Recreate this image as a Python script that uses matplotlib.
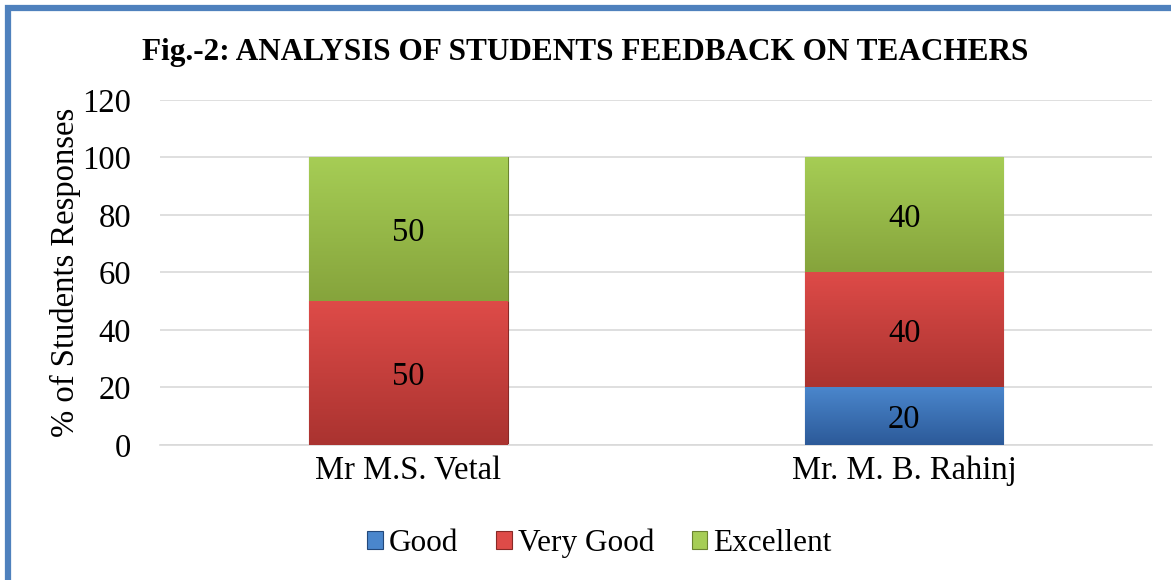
import numpy as np
import matplotlib.pyplot as plt
import matplotlib.colors as mcolors
from matplotlib.patches import Rectangle

plt.rcParams['font.family'] = ['Liberation Serif', 'DejaVu Serif']

# data
teachers = ['Mr M.S. Vetal', 'Mr. M. B. Rahinj']
series = ['Good', 'Very Good', 'Excellent']
good = [0, 20]
very_good = [50, 40]
excellent = [50, 40]
yticks = [0, 20, 40, 60, 80, 100, 120]

colors = {'Good': ('#4a86cc', '#2c5a99'),
          'Very Good': ('#de4b48', '#aa3330'),
          'Excellent': ('#a6cd55', '#86a43c')}


def gradient_bars(ax, bars, top, bottom):
    cmap = mcolors.LinearSegmentedColormap.from_list('g', [bottom, top])
    grad = np.linspace(0, 1, 100).reshape(-1, 1)
    for b in bars:
        if b.get_height() == 0:
            continue
        x0, y0 = b.get_x(), b.get_y()
        w, h = b.get_width(), b.get_height()
        im = ax.imshow(grad, cmap=cmap, aspect='auto', origin='lower',
                       extent=(x0, x0 + w, y0, y0 + h), zorder=3)
        im.set_clip_path(b)


fig = plt.figure(figsize=(11.71, 5.8), dpi=100)
ax = fig.add_axes([0.137, 0.233, 0.847, 0.595])

x = np.arange(len(teachers))
bottom = np.zeros(len(teachers))
handles = []
for name, vals in zip(series, [good, very_good, excellent]):
    top_c, bot_c = colors[name]
    bars = ax.bar(x, vals, 0.4, bottom=bottom, color=top_c,
                  edgecolor=mcolors.to_hex(np.array(mcolors.to_rgb(bot_c)) * 0.8),
                  linewidth=0.8, zorder=2, label=name)
    gradient_bars(ax, bars, top_c, bot_c)
    for b, v in zip(bars, vals):
        if v > 0:
            ax.text(b.get_x() + b.get_width() / 2, b.get_y() + v / 2, str(v),
                    ha='center', va='center_baseline', fontsize=23.5, zorder=5)
    bottom += np.array(vals)
    handles.append(bars)

ax.set_xlim(-0.5, 1.5)
ax.set_ylim(0, 120)
ax.set_yticks(yticks)
ax.set_xticks(x)
ax.set_xticklabels(teachers, fontsize=23.5)
ax.tick_params(axis='y', labelsize=23.5, length=0, pad=21)
ax.tick_params(axis='x', length=0, pad=8)
ax.yaxis.grid(True, color='#d9d9d9', linewidth=1.2)
ax.set_axisbelow(True)
for s in ['top', 'right', 'left']:
    ax.spines[s].set_visible(False)
ax.spines['bottom'].set_color('#d9d9d9')
ax.spines['bottom'].set_linewidth(1.2)
ax.set_ylabel('% of Students Responses', fontsize=23.5, labelpad=1)

fig.text(0.5, 0.909, 'Fig.-2: ANALYSIS OF STUDENTS FEEDBACK ON TEACHERS',
         ha='center', va='center', fontsize=22.5, fontweight='bold')

fig.legend(handles=handles, labels=series, loc='center', bbox_to_anchor=(0.512, 0.063),
           ncol=3, frameon=False, fontsize=22.5, handlelength=0.5, handleheight=0.5,
           handletextpad=0.2, columnspacing=1.2)

# blue frame (only top and left visible in the reference)
fig.patches.append(Rectangle((0.0065, -0.05), 1.2, 1.037, transform=fig.transFigure,
                             fill=False, edgecolor='#4f81bd', linewidth=4.5))

fig.savefig('out.png', dpi=100)
